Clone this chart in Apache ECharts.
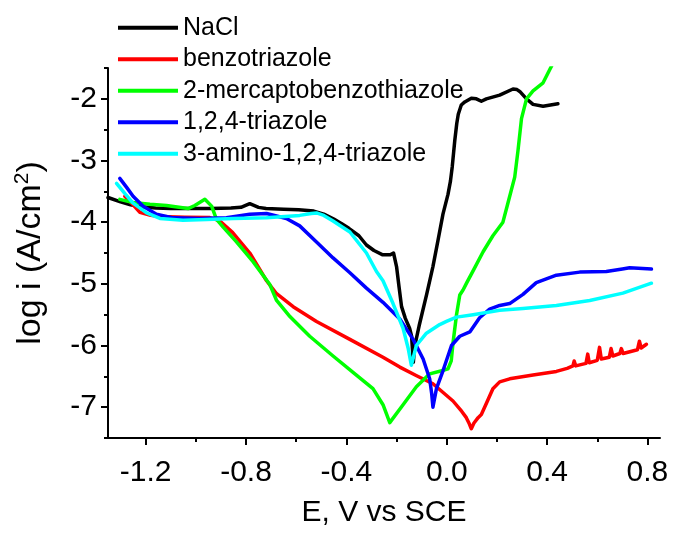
<!DOCTYPE html>
<html>
<head>
<meta charset="utf-8">
<script src="https://cdn.jsdelivr.net/npm/echarts@6/dist/echarts.min.js"></script>
<style>
  html, body { margin: 0; padding: 0; background: #fff; }
  #chart { width: 675px; height: 533px; }
</style>
</head>
<body>
<div id="chart"></div>
<script>
// Potentiodynamic polarization curves: [E (V vs SCE), log i (A/cm2)]
const nacl = [
  [-1.35,-3.60],[-1.30,-3.67],[-1.26,-3.72],[-1.22,-3.75],[-1.16,-3.77],[-1.10,-3.78],
  [-1.02,-3.78],[-0.94,-3.78],[-0.86,-3.77],[-0.82,-3.76],[-0.785,-3.70],[-0.75,-3.76],
  [-0.72,-3.78],[-0.65,-3.79],[-0.59,-3.80],[-0.53,-3.82],[-0.49,-3.87],[-0.45,-3.95],
  [-0.42,-4.02],[-0.39,-4.10],[-0.35,-4.22],[-0.32,-4.37],[-0.29,-4.46],[-0.255,-4.53],
  [-0.225,-4.53],[-0.212,-4.50],[-0.200,-4.72],[-0.190,-5.05],[-0.180,-5.37],[-0.165,-5.56],
  [-0.148,-5.72],[-0.140,-5.85],[-0.136,-6.10],[-0.133,-6.27],[-0.128,-6.02],[-0.110,-5.68],
  [-0.080,-5.17],[-0.055,-4.72],[-0.035,-4.30],[-0.015,-3.87],[0.005,-3.55],[0.015,-3.33],
  [0.022,-3.10],[0.032,-2.68],[0.040,-2.40],[0.046,-2.25],[0.058,-2.10],[0.072,-2.05],
  [0.098,-1.99],[0.118,-2.00],[0.138,-2.04],[0.158,-2.00],[0.211,-1.94],[0.264,-1.84],
  [0.280,-1.85],[0.291,-1.88],[0.318,-2.00],[0.344,-2.09],[0.384,-2.12],[0.443,-2.08]
];
const benzotriazole = [
  [-1.283,-3.58],[-1.25,-3.72],[-1.223,-3.84],[-1.18,-3.89],[-1.143,-3.91],[-1.044,-3.92],
  [-0.944,-3.925],[-0.904,-3.98],[-0.853,-4.17],[-0.785,-4.50],[-0.718,-4.95],[-0.678,-5.16],
  [-0.612,-5.37],[-0.519,-5.61],[-0.386,-5.90],[-0.254,-6.19],[-0.187,-6.35],[-0.120,-6.49],
  [-0.055,-6.62],[0.025,-6.90],[0.060,-7.07],[0.078,-7.17],[0.090,-7.27],[0.098,-7.35],
  [0.108,-7.26],[0.125,-7.17],[0.138,-7.12],[0.160,-6.92],[0.184,-6.70],[0.211,-6.59],
  [0.251,-6.54],[0.344,-6.48],[0.437,-6.42],[0.480,-6.37],[0.503,-6.33],[0.508,-6.25],
  [0.514,-6.33],[0.555,-6.29],[0.562,-6.14],[0.568,-6.28],[0.600,-6.24],[0.609,-6.03],
  [0.616,-6.22],[0.648,-6.19],[0.655,-6.05],[0.662,-6.17],[0.690,-6.13],[0.696,-6.05],
  [0.703,-6.13],[0.760,-6.07],[0.768,-5.93],[0.775,-6.04],[0.796,-5.98]
];
const mercaptobenzothiazole = [
  [-1.303,-3.63],[-1.25,-3.68],[-1.183,-3.71],[-1.117,-3.73],[-1.031,-3.78],[-1.004,-3.73],
  [-0.980,-3.67],[-0.964,-3.63],[-0.937,-3.74],[-0.918,-3.95],[-0.891,-4.08],[-0.838,-4.32],
  [-0.772,-4.64],[-0.705,-5.01],[-0.678,-5.27],[-0.625,-5.53],[-0.546,-5.85],[-0.453,-6.17],
  [-0.360,-6.48],[-0.294,-6.70],[-0.254,-6.96],[-0.227,-7.25],[-0.174,-6.96],[-0.121,-6.67],
  [-0.068,-6.46],[-0.020,-6.41],[0.005,-6.38],[0.018,-6.25],[0.025,-5.96],[0.039,-5.50],
  [0.052,-5.18],[0.065,-5.10],[0.080,-4.98],[0.105,-4.79],[0.145,-4.48],[0.184,-4.22],
  [0.224,-4.00],[0.244,-3.69],[0.271,-3.27],[0.284,-2.84],[0.298,-2.32],[0.318,-2.00],
  [0.344,-1.87],[0.384,-1.74],[0.420,-1.45]
];
const triazole = [
  [-1.303,-3.29],[-1.275,-3.44],[-1.250,-3.58],[-1.210,-3.74],[-1.157,-3.87],[-1.090,-3.93],
  [-0.984,-3.94],[-0.878,-3.93],[-0.785,-3.87],[-0.718,-3.86],[-0.639,-3.94],[-0.586,-4.06],
  [-0.519,-4.32],[-0.453,-4.58],[-0.386,-4.82],[-0.320,-5.07],[-0.254,-5.30],[-0.187,-5.57],
  [-0.134,-5.90],[-0.094,-6.22],[-0.068,-6.54],[-0.060,-6.78],[-0.055,-7.00],[-0.041,-6.70],
  [-0.015,-6.41],[0.019,-6.00],[0.052,-5.85],[0.092,-5.78],[0.131,-5.55],[0.171,-5.41],
  [0.211,-5.35],[0.251,-5.32],[0.304,-5.17],[0.357,-4.98],[0.437,-4.86],[0.530,-4.81],
  [0.636,-4.80],[0.700,-4.76],[0.729,-4.74],[0.816,-4.76]
];
const aminoTriazole = [
  [-1.316,-3.37],[-1.28,-3.55],[-1.250,-3.69],[-1.196,-3.85],[-1.143,-3.94],[-1.051,-3.97],
  [-0.957,-3.955],[-0.851,-3.94],[-0.718,-3.93],[-0.586,-3.89],[-0.540,-3.86],[-0.519,-3.85],
  [-0.490,-3.89],[-0.453,-3.98],[-0.386,-4.16],[-0.320,-4.50],[-0.280,-4.80],[-0.254,-4.95],
  [-0.214,-5.32],[-0.174,-5.72],[-0.154,-6.04],[-0.141,-6.32],[-0.121,-6.00],[-0.081,-5.80],
  [-0.028,-5.66],[-0.001,-5.61],[0.039,-5.54],[0.105,-5.50],[0.211,-5.43],[0.304,-5.40],
  [0.437,-5.35],[0.570,-5.27],[0.702,-5.15],[0.816,-4.99]
];

const seriesNames = ['NaCl', 'benzotriazole', '2-mercaptobenzothiazole', '1,2,4-triazole', '3-amino-1,2,4-triazole'];
const seriesData = [nacl, benzotriazole, mercaptobenzothiazole, triazole, aminoTriazole];
const seriesColors = ['#000000', '#ff0000', '#00ff00', '#0000ff', '#00ffff'];

const xMajorTicks = [-1.2, -0.8, -0.4, 0.0, 0.4, 0.8];
const xMinorTicks = [-1.2, -1.0, -0.8, -0.6, -0.4, -0.2, 0.0, 0.2, 0.4, 0.6, 0.8];
const yMajorTicks = [-7, -6, -5, -4, -3, -2];
const yMinorTicks = [-7.5, -7, -6.5, -6, -5.5, -5, -4.5, -4, -3.5, -3, -2.5, -2, -1.5];

const FONT = '"Liberation Sans", Arial, sans-serif';
const axisColor = '#000';

const chart = echarts.init(document.getElementById('chart'), null, { renderer: 'canvas' });

const baseX = {
  type: 'value', min: -1.35, max: 0.85, position: 'bottom',
  splitLine: { show: false }
};
const baseY = {
  type: 'value', min: -7.5, max: -1.5, position: 'left',
  splitLine: { show: false }
};

chart.setOption({
  animation: false,
  backgroundColor: '#fff',
  grid: { left: 108, right: 15, top: 68, bottom: 86, containLabel: false },
  legend: {
    orient: 'vertical', left: 113, top: 9,
    itemWidth: 60, itemHeight: 4, itemGap: 4, icon: 'rect',
    data: seriesNames,
    textStyle: { fontFamily: FONT, fontSize: 25, color: '#000', lineHeight: 27.5 }
  },
  xAxis: [
    Object.assign({}, baseX, {
      axisLine: { show: true, onZero: false, lineStyle: { color: axisColor, width: 2 } },
      axisTick: { show: true, customValues: xMajorTicks, length: 7, lineStyle: { color: axisColor, width: 2 } },
      axisLabel: { customValues: xMajorTicks, formatter: v => v.toFixed(1), fontFamily: FONT, fontSize: 30, color: '#000', margin: 20 },
      name: 'E, V vs SCE', nameLocation: 'middle', nameGap: 60,
      nameTextStyle: { fontFamily: FONT, fontSize: 30, color: '#000' }
    }),
    Object.assign({}, baseX, {
      axisLine: { show: false, onZero: false },
      axisTick: { show: true, customValues: xMinorTicks, length: 4, lineStyle: { color: axisColor, width: 2 } },
      axisLabel: { show: false }
    })
  ],
  yAxis: [
    Object.assign({}, baseY, {
      axisLine: { show: true, onZero: false, lineStyle: { color: axisColor, width: 2 } },
      axisTick: { show: true, customValues: yMajorTicks, length: 7, lineStyle: { color: axisColor, width: 2 } },
      axisLabel: { customValues: yMajorTicks, formatter: v => String(Math.round(v)), fontFamily: FONT, fontSize: 30, color: '#000', margin: 11 },
      name: '{a|log i (A/cm}{s|2}{a|)}', nameLocation: 'middle', nameGap: 58, nameRotate: 90,
      nameTextStyle: {
        fontFamily: FONT, color: '#000',
        rich: {
          a: { fontFamily: FONT, fontSize: 34, color: '#000', lineHeight: 38 },
          s: { fontFamily: FONT, fontSize: 21, color: '#000', verticalAlign: 'top', lineHeight: 38 }
        }
      }
    }),
    Object.assign({}, baseY, {
      axisLine: { show: false, onZero: false },
      axisTick: { show: true, customValues: yMinorTicks, length: 4, lineStyle: { color: axisColor, width: 2 } },
      axisLabel: { show: false }
    })
  ],
  series: seriesData.map((d, i) => ({
    name: seriesNames[i],
    type: 'line',
    xAxisIndex: 0, yAxisIndex: 0,
    data: d,
    showSymbol: false, symbol: 'none',
    smooth: false,
    clip: true,
    color: seriesColors[i],
    lineStyle: { color: seriesColors[i], width: 3.5, cap: 'round', join: 'round' },
    z: 2 + i
  }))
});
</script>
</body>
</html>
